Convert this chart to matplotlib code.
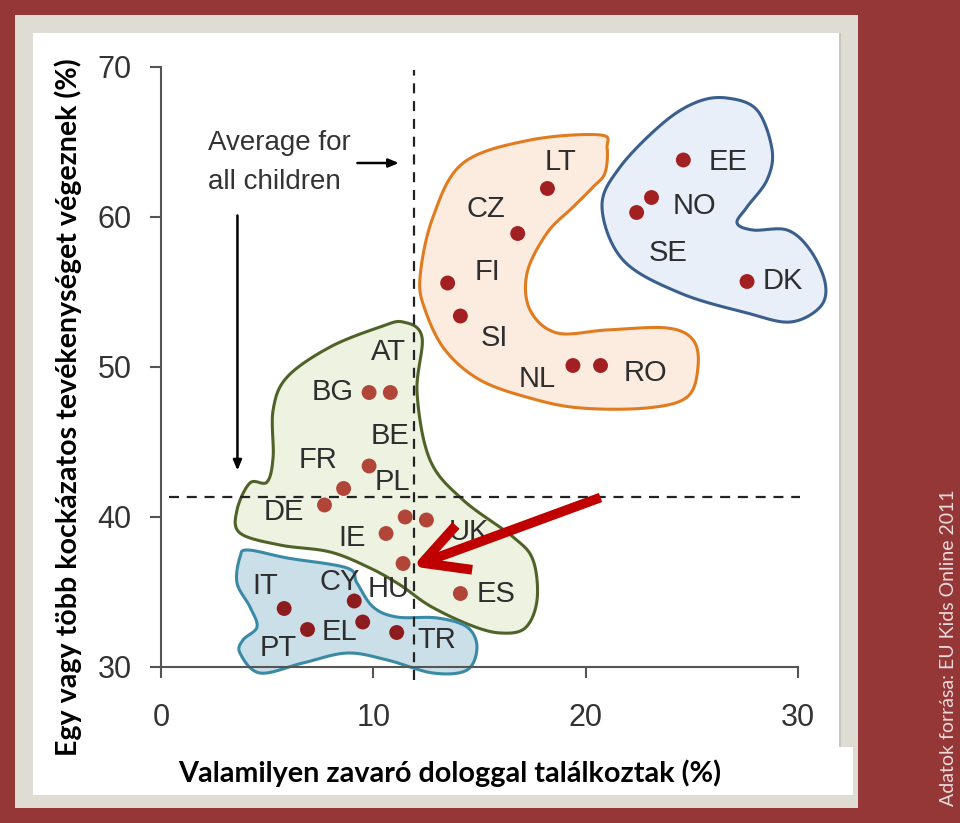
import numpy as np
import matplotlib
matplotlib.use("Agg")
import matplotlib.pyplot as plt
from matplotlib.patches import Rectangle

# country values: x = came across something bothering (%), y = risky activities (%)
nordic = ["EE", "NO", "SE", "DK"]
nordic_x = [24.6, 23.1, 22.4, 27.6]
nordic_y = [63.8, 61.3, 60.3, 55.7]

east = ["LT", "CZ", "FI", "SI", "NL", "RO"]
east_x = [18.2, 16.8, 13.5, 14.1, 19.4, 20.7]
east_y = [61.9, 58.9, 55.6, 53.4, 50.1, 50.1]

middle = ["AT", "BG", "BE", "FR", "PL", "DE", "IE", "UK", "HU", "ES"]
middle_x = [10.8, 9.8, 9.8, 8.6, 11.5, 7.7, 10.6, 12.5, 11.4, 14.1]
middle_y = [48.3, 48.3, 43.4, 41.9, 40.0, 40.8, 38.9, 39.8, 36.9, 34.9]

south = ["IT", "CY", "EL", "PT", "TR"]
south_x = [5.8, 9.1, 9.5, 6.9, 11.1]
south_y = [33.9, 34.4, 33.0, 32.5, 32.3]

avg_x = 11.9
avg_y = 41.3

# where the country codes sit, relative to their dot
label_offset = {
    "EE": (2.1, -0.1), "NO": (2.0, -0.6), "SE": (1.5, -2.7), "DK": (1.7, 0.0),
    "LT": (0.6, 1.8), "CZ": (-1.5, 1.6), "FI": (1.9, 0.7), "SI": (1.6, -1.5),
    "NL": (-1.7, -0.9), "RO": (2.1, -0.5),
    "AT": (-0.1, 2.7), "BG": (-1.7, 0.0), "BE": (1.0, 2.0), "FR": (-1.2, 1.9),
    "PL": (-0.6, 2.3), "DE": (-1.9, -0.5), "IE": (-1.6, -0.3), "UK": (2.0, -0.8),
    "HU": (-0.7, -1.7), "ES": (1.7, 0.0),
    "IT": (-0.9, 1.5), "CY": (-0.7, 1.3), "EL": (-1.1, -0.7), "PT": (-1.4, -1.2),
    "TR": (1.9, -0.5),
}

# hand drawn cluster outlines (data coords)
nordic_shape = [(26.66, 67.93), (28.07, 67.13), (28.78, 64.47), (28.54, 62.47), (27.6, 60.67),
                (27.13, 59.6), (27.89, 59.13), (29.49, 59.13), (30.57, 57.8), (31.28, 55.6),
                (31.04, 54.0), (29.63, 53.0), (27.6, 53.6), (24.45, 54.93), (21.76, 57.13),
                (20.77, 60.67), (21.62, 63.33), (23.65, 66.27), (25.25, 67.67)]
east_shape = [(14.23, 63.6), (17.38, 65.13), (20.68, 65.47), (21.01, 64.6), (20.91, 62.93),
              (20.35, 62.0), (19.41, 60.67), (18.18, 58.93), (17.24, 56.27), (17.38, 53.8),
              (18.65, 52.27), (21.01, 52.47), (23.83, 52.6), (25.06, 51.8), (25.29, 50.0),
              (24.78, 48.0), (22.89, 47.27), (19.74, 47.27), (17.38, 47.93), (15.03, 49.13),
              (13.38, 51.13), (12.44, 53.8), (12.2, 56.0), (12.81, 60.0)]
middle_shape = [(11.4, 53.0), (12.29, 52.0), (12.06, 48.27), (12.67, 43.8), (14.23, 41.13),
                (16.58, 38.67), (17.52, 37.13), (17.71, 34.47), (17.15, 32.6), (15.97, 32.27),
                (14.55, 32.8), (12.67, 34.07), (11.26, 35.47), (9.84, 36.6), (7.96, 37.67),
                (5.61, 38.13), (3.72, 38.93), (3.58, 40.47), (4.19, 42.27), (4.99, 42.33),
                (5.28, 44.0), (5.28, 47.13), (5.94, 49.33), (7.96, 51.33), (10.32, 52.67)]
south_shape = [(4.10, 37.8), (5.94, 37.27), (8.76, 36.6), (9.23, 35.6), (9.99, 34.0),
               (11.12, 33.33), (13.0, 33.27), (14.41, 32.67), (14.88, 31.33), (14.41, 29.8),
               (12.81, 29.6), (10.65, 30.47), (8.76, 30.93), (6.69, 30.27), (4.66, 29.6),
               (3.72, 30.93), (3.86, 31.8), (4.52, 32.67), (4.19, 34.0), (3.58, 35.6),
               (3.72, 37.33)]


def smooth_closed(shape, n=24):
    pts = np.array(shape, dtype=float)
    m = len(pts)
    t = np.linspace(0, 1, n, endpoint=False)[:, None]
    out = []
    for i in range(m):
        p0, p1, p2, p3 = pts[(i - 1) % m], pts[i], pts[(i + 1) % m], pts[(i + 2) % m]
        seg = 0.5 * (2 * p1 + (-p0 + p2) * t + (2 * p0 - 5 * p1 + 4 * p2 - p3) * t ** 2
                     + (-p0 + 3 * p1 - 3 * p2 + p3) * t ** 3)
        out.append(seg)
    out = np.vstack(out)
    return out[:, 0], out[:, 1]


fig = plt.figure(figsize=(9.6, 8.23), dpi=100, facecolor="#963737")
W, H = 960, 823


def px_rect(x0, y0, x1, y1, color):
    fig.patches.append(Rectangle((x0 / W, 1 - y1 / H), (x1 - x0) / W, (y1 - y0) / H,
                                 transform=fig.transFigure, facecolor=color,
                                 edgecolor="none", zorder=-5))


px_rect(15, 15, 858, 808, "#dfdcd4")
px_rect(33, 33, 841, 795, "#c9c6bf")
px_rect(33, 33, 839, 794, "white")
px_rect(33, 747, 853, 795, "white")

ax = fig.add_axes([161 / W, 1 - 667 / H, 637 / W, 600 / H])
ax.set_zorder(2)
ax.set_facecolor("none")
ax.set_xlim(0, 30)
ax.set_ylim(30, 70)
for s in ["top", "right"]:
    ax.spines[s].set_visible(False)
for s in ["left", "bottom"]:
    ax.spines[s].set_color("#555555")
    ax.spines[s].set_linewidth(1.5)
ax.set_xticks([0, 10, 20, 30])
ax.set_yticks([30, 40, 50, 60, 70])
ax.tick_params(axis="both", direction="out", length=8, width=1.5, color="#555555",
               labelsize=22, labelcolor="#333333")
ax.tick_params(axis="x", pad=18)
ax.tick_params(axis="y", pad=13)
for lab in ax.get_xticklabels() + ax.get_yticklabels():
    lab.set_fontfamily("Liberation Sans")

# clusters
clusters = [
    (nordic_shape, "#e9eff8", "#3a5f8c"),
    (east_shape, "#fcebdf", "#e07b20"),
    (middle_shape, "#eef2e0", "#4f6228"),
    (south_shape, "#cbdfe9", "#3a8aa6"),
]
for shape, fc, ec in clusters:
    sx, sy = smooth_closed(shape)
    ax.fill(sx, sy, facecolor=fc, edgecolor=ec, lw=2.2, clip_on=False, zorder=1)

# average lines
ax.plot([avg_x, avg_x], [29.1, 69.8], ls=(0, (4.5, 3.5)), color="#222222", lw=1.6,
        clip_on=False, zorder=3)
ax.plot([0.4, 30.1], [avg_y, avg_y], ls=(0, (4.5, 3.5)), color="#222222", lw=1.6,
        clip_on=False, zorder=3)

groups = [
    (nordic, nordic_x, nordic_y, "#a32022"),
    (east, east_x, east_y, "#a32022"),
    (middle, middle_x, middle_y, "#b04538"),
    (south, south_x, south_y, "#8c1c1e"),
]
for codes, xs, ys, col in groups:
    ax.scatter(xs, ys, s=115, color=col, edgecolors="none", zorder=4, clip_on=False)
    for c, x, y in zip(codes, xs, ys):
        dx, dy = label_offset[c]
        ax.text(x + dx, y + dy, c, ha="center", va="center", fontsize=21,
                color="#2e2e2e", family="Liberation Sans", zorder=5)

# annotation for the average
ax.text(2.2, 64.9, "Average for", fontsize=20, color="#333333",
        family="Liberation Sans", va="center", ha="left")
ax.text(2.2, 62.3, "all children", fontsize=20, color="#333333",
        family="Liberation Sans", va="center", ha="left")
ax.annotate("", xy=(11.2, 63.6), xytext=(9.25, 63.6),
            arrowprops=dict(arrowstyle="-|>,head_length=0.6,head_width=0.25",
                            color="black", lw=1.8, shrinkA=0, shrinkB=0))
ax.annotate("", xy=(3.6, 43.1), xytext=(3.6, 60.1),
            arrowprops=dict(arrowstyle="-|>,head_length=0.6,head_width=0.25",
                            color="black", lw=1.8, shrinkA=0, shrinkB=0))

# red arrow pointing to HU
ax.annotate("", xy=(11.85, 36.7), xytext=(20.7, 41.3),
            arrowprops=dict(arrowstyle="->,head_length=1.6,head_width=0.85",
                            color="#c00000", lw=7, shrinkA=0, shrinkB=0,
                            mutation_scale=20, capstyle="butt"),
            zorder=6)

fig.text(68 / W, 1 - 407 / H, "Egy vagy több kockázatos tevékenységet végeznek (%)",
         rotation=90, ha="center", va="center", fontsize=20.6, fontweight="bold",
         family="Lato", color="black")
fig.text(450 / W, 1 - 773 / H, "Valamilyen zavaró dologgal találkoztak (%)",
         ha="center", va="center", fontsize=20.7, fontweight="bold",
         family="Lato", color="black")
fig.text(948 / W, 1 - 648 / H, "Adatok forrása: EU Kids Online 2011",
         rotation=90, ha="center", va="center", fontsize=14,
         family="Lato", color="#eadada")

fig.savefig("out.png", dpi=100, facecolor=fig.get_facecolor())
